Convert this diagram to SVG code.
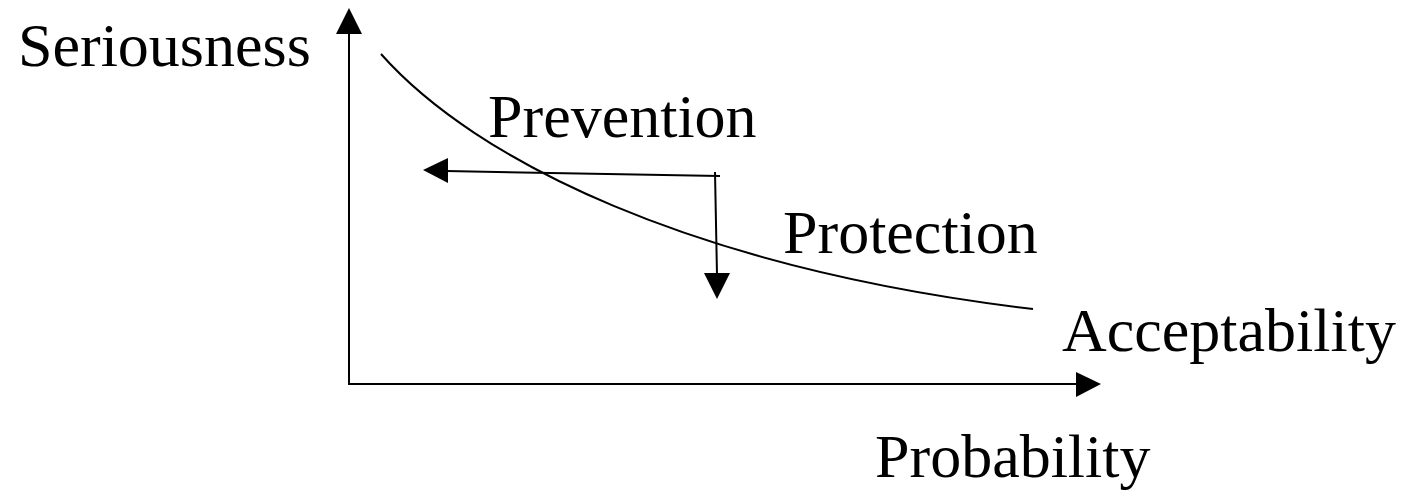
<svg xmlns="http://www.w3.org/2000/svg" width="1408" height="500" viewBox="0 0 1408 500">
<style>
.t{font-family:"Liberation Serif","Times New Roman",serif;font-size:62px;fill:#000}
.l{fill:none;stroke:#000;stroke-width:2}
.h{fill:#000;stroke:none}
</style>
<rect width="1408" height="500" fill="#fff"/>
<g id="axes">
<polyline class="l" points="349,33 349,384 1078,384"/>
<polygon class="h" points="349,8 336,34 362,34"/>
<polygon class="h" points="1101,384 1076,372 1076,397"/>
</g>
<g id="labels">
<text id="seriousness" class="t" x="18" y="66">Seriousness</text>
<text id="probability" class="t" x="875" y="477">Probability</text>
</g>
<g id="acceptability">
<path class="l" d="M381,54 C475,160 690,268 1033,309"/>
<text class="t" x="1062" y="351">Acceptability</text>
</g>
<g id="prevention">
<text class="t" x="488" y="137">Prevention</text>
</g>
<g id="protection">
<text class="t" x="783" y="253">Protection</text>
</g>
<g id="connectors">
<polyline class="l" points="446,171 720,176"/>
<polygon class="h" points="423,170 448,158 448,183"/>
<polyline class="l" points="715,172 717,275"/>
<polygon class="h" points="717,299 704,273 730,273"/>
</g>
</svg>
